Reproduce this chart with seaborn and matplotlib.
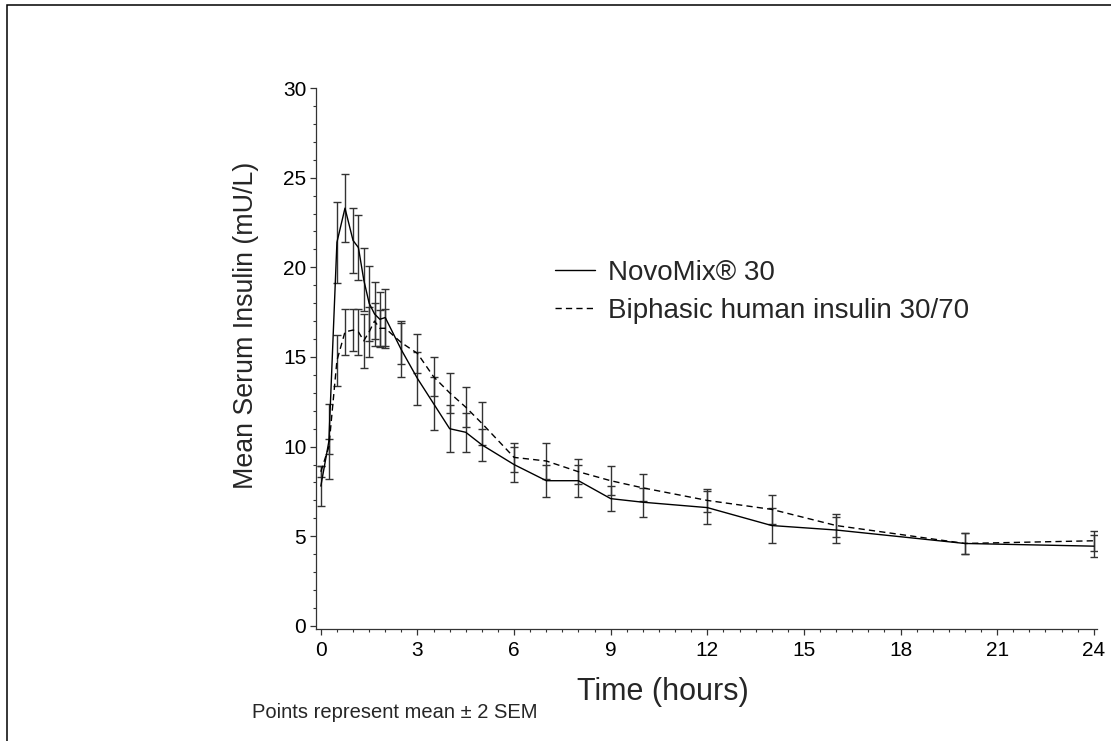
import matplotlib
matplotlib.use("Agg")
import matplotlib.pyplot as plt
from matplotlib.patches import Rectangle
from matplotlib.ticker import MultipleLocator
import numpy as np
import pandas as pd
import seaborn as sns

# ---- data ----
time_h = [0, 0.25, 0.5, 0.75, 1, 1.167, 1.333, 1.5, 1.667, 1.833, 2, 2.5, 3,
          3.5, 4, 4.5, 5, 6, 7, 8, 9, 10, 12, 14, 16, 20, 24]
novo_mean = [7.8, 10.3, 21.4, 23.3, 21.5, 21.1, 19.3, 18.0, 17.4, 17.1, 17.2,
             15.4, 13.8, 12.4, 11.0, 10.8, 10.1, 9.0, 8.1, 8.1, 7.1, 6.9, 6.6,
             5.6, 5.35, 4.6, 4.45]
novo_err = [1.1, 2.1, 2.25, 1.9, 1.8, 1.8, 1.75, 2.1, 1.8, 1.55, 1.6, 1.5, 1.5,
            1.5, 1.3, 1.1, 0.9, 1.0, 0.9, 0.9, 0.7, 0.8, 0.9, 0.95, 0.75, 0.6,
            0.6]
bhi_mean = [8.6, 10.0, 14.8, 16.4, 16.5, 16.4, 15.9, 16.4, 17.0, 16.6, 16.6,
            15.8, 15.2, 13.9, 13.0, 12.2, 11.3, 9.4, 9.2, 8.6, 8.1, 7.7, 7.0,
            6.5, 5.6, 4.6, 4.75]
bhi_err = [0.3, 0.4, 1.4, 1.3, 1.15, 1.3, 1.5, 1.4, 1.0, 1.0, 1.1, 1.2, 1.1,
           1.1, 1.1, 1.1, 1.2, 0.8, 1.0, 0.7, 0.8, 0.75, 0.65, 0.8, 0.65, 0.6,
           0.55]
labels = ["NovoMix\u00ae 30", "Biphasic human insulin 30/70"]
x_ticks = [0, 3, 6, 9, 12, 15, 18, 21, 24]
y_ticks = [0, 5, 10, 15, 20, 25, 30]

df = pd.DataFrame({
    "Time": time_h + time_h,
    "Insulin": novo_mean + bhi_mean,
    "Err": novo_err + bhi_err,
    "Treatment": [labels[0]] * len(time_h) + [labels[1]] * len(time_h),
})

sns.set_style("ticks")
plt.rcParams["font.family"] = ["Liberation Sans", "DejaVu Sans"]
plt.rcParams["lines.linewidth"] = 1.0

fig = plt.figure(figsize=(11.11, 7.41), dpi=100)
W, H = 1111, 741
ax_left, ax_right, ax_top, ax_bot = 316, 1097, 88, 629
ax = fig.add_axes([ax_left / W, 1 - ax_bot / H,
                   (ax_right - ax_left) / W, (ax_bot - ax_top) / H])

# error bars
for lab in labels:
    sub = df[df["Treatment"] == lab]
    ax.errorbar(sub["Time"], sub["Insulin"], yerr=sub["Err"], fmt="none",
                ecolor="#333333", elinewidth=1.0, capsize=3.2, capthick=1.0,
                zorder=2)

sns.lineplot(data=df, x="Time", y="Insulin", hue="Treatment", style="Treatment",
             palette={labels[0]: "black", labels[1]: "black"},
             dashes={labels[0]: "", labels[1]: (4.5, 3)},
             estimator=None, errorbar=None, linewidth=1.0, ax=ax, zorder=3)

ax.set_xlim(-0.15, 24.1)
ax.set_ylim(-0.17, 30)
ax.set_xticks(x_ticks)
ax.set_yticks(y_ticks)
ax.xaxis.set_minor_locator(MultipleLocator(0.5))
ax.yaxis.set_minor_locator(MultipleLocator(1))
ax.tick_params(axis="both", which="major", length=4, width=0.9,
               colors="#333333", labelcolor="black", labelsize=15)
ax.tick_params(axis="both", which="minor", length=2.3, width=0.8,
               colors="#333333")
ax.tick_params(axis="x", which="major", pad=4.5)
ax.tick_params(axis="y", which="major", pad=3)
for s in ["top", "right"]:
    ax.spines[s].set_visible(False)
for s in ["left", "bottom"]:
    ax.spines[s].set_color("#333333")
    ax.spines[s].set_linewidth(0.9)
ax.spines["left"].set_bounds(-0.17, 30)

ax.set_xlabel("Time (hours)", fontsize=22, va="baseline")
ax.xaxis.set_label_coords((663 - ax_left) / (ax_right - ax_left),
                          (ax_bot - 700) / (ax_bot - ax_top))
ax.set_ylabel("Mean Serum Insulin (mU/L)", fontsize=19.3, va="center")
ax.yaxis.set_label_coords((246 - ax_left) / (ax_right - ax_left),
                          (ax_bot - 325) / (ax_bot - ax_top))

# legend
old = ax.get_legend()
handles = list(old.legend_handles)
texts = [t.get_text() for t in old.get_texts()]
old.remove()
for h in handles:
    h.set_color("black")
    h.set_linewidth(1.0)
fig.legend(handles, texts, loc="center left",
           bbox_to_anchor=(555 / W, 1 - 292 / H), frameon=False,
           fontsize=20, handlelength=1.45, handletextpad=0.45,
           labelspacing=0.42, borderpad=0, borderaxespad=0)

fig.text(252 / W, 1 - 718 / H, "Points represent mean \u00b1 2 SEM",
         fontsize=14.5, ha="left", va="baseline")

# outer frame
fig.patches.append(Rectangle((7 / W, -0.05), 1.2, 0.05 + 1 - 5 / H,
                             transform=fig.transFigure, fill=False,
                             edgecolor="black", linewidth=1.1))

fig.savefig("out.png", dpi=100)
